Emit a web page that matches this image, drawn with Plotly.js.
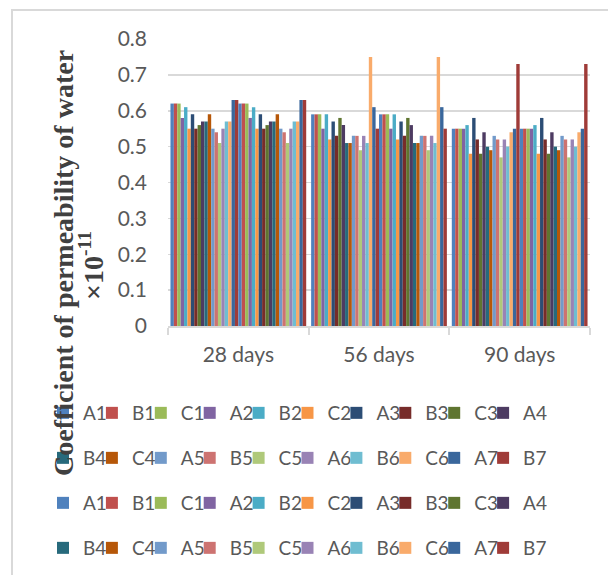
<!DOCTYPE html>
<html>
<head>
<meta charset="utf-8">
<script src="https://cdn.plot.ly/plotly-3.0.1.min.js"></script>
<style>
  html, body { margin: 0; padding: 0; background: #ffffff; }
  #chart { width: 608px; height: 575px; }
</style>
</head>
<body>
<div id="chart"></div>
<script>
// Curing ages on the category axis
const categories = ['28 days', '56 days', '90 days'];

// Mix designations (two series groups share the same names)
const seriesNames = [
  'A1', 'B1', 'C1', 'A2', 'B2', 'C2', 'A3', 'B3', 'C3', 'A4',
  'B4', 'C4', 'A5', 'B5', 'C5', 'A6', 'B6', 'C6', 'A7', 'B7',
  'A1', 'B1', 'C1', 'A2', 'B2', 'C2', 'A3', 'B3', 'C3', 'A4',
  'B4', 'C4', 'A5', 'B5', 'C5', 'A6', 'B6', 'C6', 'A7', 'B7'
];

// Coefficient of permeability (×10^-11) per mix, one array per age
const k28 = [
  0.62, 0.62, 0.62, 0.58, 0.61, 0.55, 0.59, 0.55, 0.56, 0.57,
  0.57, 0.59, 0.55, 0.54, 0.51, 0.55, 0.57, 0.57, 0.63, 0.63,
  0.62, 0.62, 0.62, 0.58, 0.61, 0.55, 0.59, 0.55, 0.56, 0.57,
  0.57, 0.59, 0.55, 0.54, 0.51, 0.55, 0.57, 0.57, 0.63, 0.63
];
const k56 = [
  0.59, 0.59, 0.59, 0.55, 0.59, 0.52, 0.57, 0.53, 0.58, 0.56,
  0.51, 0.51, 0.53, 0.53, 0.49, 0.53, 0.51, 0.75, 0.61, 0.55,
  0.59, 0.59, 0.59, 0.55, 0.59, 0.52, 0.57, 0.53, 0.58, 0.56,
  0.51, 0.51, 0.53, 0.53, 0.49, 0.53, 0.51, 0.75, 0.61, 0.55
];
const k90 = [
  0.55, 0.55, 0.55, 0.55, 0.56, 0.48, 0.58, 0.52, 0.48, 0.54,
  0.50, 0.49, 0.53, 0.52, 0.47, 0.52, 0.50, 0.54, 0.55, 0.73,
  0.55, 0.55, 0.55, 0.55, 0.56, 0.48, 0.58, 0.52, 0.48, 0.54,
  0.50, 0.49, 0.53, 0.52, 0.47, 0.52, 0.50, 0.54, 0.55, 0.73
];

// Office-style palette, repeated for the second group
const palette = [
  '#4F81BD', '#C0504D', '#9BBB59', '#8064A2', '#4BACC6', '#F79646',
  '#2C4D75', '#772C2A', '#5F7530', '#4D3B62', '#276A7C', '#B65708',
  '#729ACA', '#CD7371', '#AFC97A', '#9983B5', '#6FBDD1', '#F9AB6B',
  '#3A679C', '#9F3B38'
];

// Ten legend entries per row, one legend object per row
const legendIds = ['legend', 'legend2', 'legend3', 'legend4'];
const perRow = 10;

const traces = seriesNames.map((name, i) => {
  const t = {
    type: 'bar',
    name: name,
    x: categories,
    y: [k28[i], k56[i], k90[i]],
    marker: { color: palette[i % palette.length], line: { width: 0 } },
    legend: legendIds[Math.floor(i / perRow)],
    hoverinfo: 'name+y'
  };
  // last entry of a row gets room for its label so it is not clipped
  if (i % perRow === perRow - 1) t.legendwidth = 30;
  return t;
});

// Plot area in pixels: x 168..590, y 39..326
const W = 608, H = 575;
const M = { l: 168, r: 18, t: 39, b: 249 };
const pw = W - M.l - M.r;
const ph = H - M.t - M.b;
const px = v => (v - M.l) / pw;
const py = v => (H - M.b - v) / ph;

const textGray = '#595959';
const axisGray = '#d9d9d9';
const sans = 'Lato, "Open Sans", sans-serif';

function legendRow(top) {
  return {
    orientation: 'h',
    x: px(43), xanchor: 'left',
    y: py(top), yanchor: 'top',
    xref: 'paper', yref: 'paper',
    entrywidth: 3.9, entrywidthmode: 'pixels',
    bgcolor: 'rgba(0,0,0,0)',
    font: { family: sans, size: 19, color: textGray },
    traceorder: 'normal'
  };
}

const titleFont = { family: '"Liberation Serif", "DejaVu Serif", serif', size: 28, weight: 'bold', color: '#404040' };

const layout = {
  width: W,
  height: H,
  margin: { l: M.l, r: M.r, t: M.t, b: M.b, pad: 0, autoexpand: false },
  paper_bgcolor: '#ffffff',
  plot_bgcolor: '#ffffff',
  barmode: 'group',
  bargap: 0.035,
  bargroupgap: 0,
  font: { family: sans, color: textGray },
  xaxis: {
    type: 'category',
    showgrid: false,
    showline: true,
    linecolor: axisGray,
    linewidth: 2,
    ticks: 'outside',
    tickson: 'boundaries',
    ticklen: 7,
    tickwidth: 2,
    tickcolor: axisGray,
    ticklabelstandoff: 9,
    tickfont: { family: sans, size: 21, color: textGray },
    zeroline: false,
    fixedrange: true
  },
  yaxis: {
    range: [0, 0.8],
    dtick: 0.1,
    tick0: 0,
    showgrid: true,
    gridcolor: axisGray,
    gridwidth: 1.5,
    showline: false,
    zeroline: false,
    ticks: '',
    ticklabelstandoff: 20,
    tickfont: { family: sans, size: 21, color: textGray },
    fixedrange: true
  },
  legend: legendRow(394),
  legend2: legendRow(439),
  legend3: legendRow(484),
  legend4: legendRow(529),
  annotations: [
    {
      text: 'Coefficient of permeability of water',
      xref: 'paper', yref: 'paper',
      x: px(63), y: py(263),
      xanchor: 'center', yanchor: 'middle',
      textangle: -90,
      showarrow: false,
      font: titleFont
    },
    {
      text: '×10<sup>-11</sup>',
      xref: 'paper', yref: 'paper',
      x: px(91), y: py(266),
      xanchor: 'center', yanchor: 'middle',
      textangle: -90,
      showarrow: false,
      font: titleFont
    }
  ],
  shapes: [
    {
      type: 'rect', xref: 'paper', yref: 'paper', layer: 'below',
      x0: px(12), x1: px(640), y0: py(10), y1: py(620),
      line: { color: '#d9d9d9', width: 2 },
      fillcolor: 'rgba(0,0,0,0)'
    }
  ]
};

Plotly.newPlot('chart', traces, layout, { staticPlot: true, displayModeBar: false });
</script>
</body>
</html>
